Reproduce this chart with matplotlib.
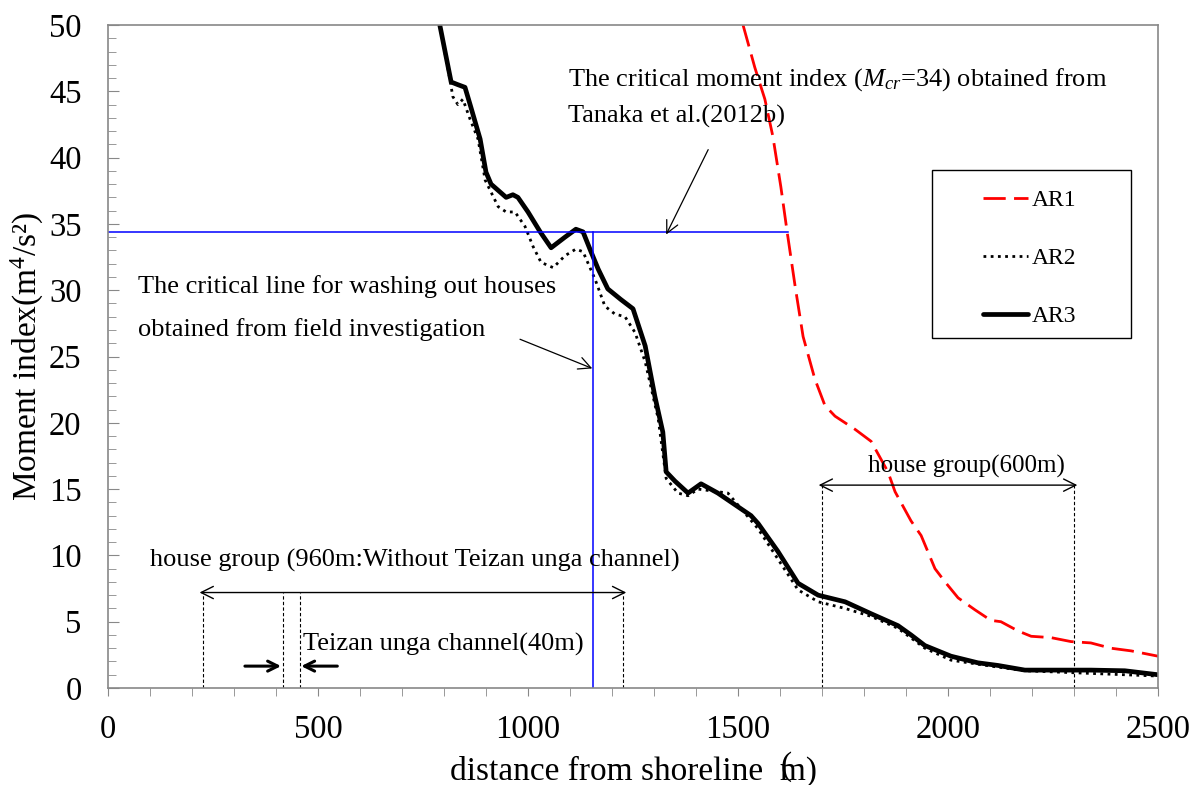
import numpy as np
import matplotlib
matplotlib.use("Agg")
import matplotlib.pyplot as plt
from matplotlib.ticker import MultipleLocator
from matplotlib.patches import Rectangle

# 字体：Times 风格
plt.rcParams["font.family"] = ["Liberation Serif", "DejaVu Serif"]
plt.rcParams["mathtext.fontset"] = "custom"
plt.rcParams["mathtext.rm"] = "Liberation Serif"
plt.rcParams["mathtext.it"] = "Liberation Serif:italic"

# 数据
ar1_x = [1512, 1540, 1564, 1583, 1602, 1617, 1636, 1655, 1683, 1707, 1731, 1779,
         1817, 1857, 1874, 1912, 1936, 1969, 1993, 2024, 2064, 2102, 2126, 2167,
         2198, 2245, 2293, 2340, 2388, 2436, 2500]
ar1_y = [50, 46.8, 44.4, 41.6, 37.8, 34.4, 30.3, 26.5, 23.3, 21.3, 20.5, 19.5,
         18.6, 16.3, 14.8, 12.6, 11.5, 9.0, 8.0, 6.8, 5.9, 5.1, 5.0, 4.3,
         3.9, 3.8, 3.5, 3.4, 3.0, 2.8, 2.4]

ar2_x = [790, 814, 821, 833, 845, 862, 881, 898, 929, 948, 969, 993, 1012, 1031,
         1060, 1088, 1114, 1131, 1160, 1183, 1207, 1231, 1255, 1279, 1310, 1329,
         1357, 1381, 1405, 1476, 1548, 1643, 1691, 1755, 1817, 1881, 1945, 2007,
         2102, 2183, 2340, 2500]
ar2_y = [50, 45.9, 44.6, 44.0, 44.4, 42.9, 41.4, 38.3, 36.3, 35.9, 35.9, 34.8, 33.3,
         32.1, 31.7, 32.6, 33.1, 32.9, 30.8, 28.8, 28.2, 28.0, 26.8, 24.6, 20.3,
         15.8, 14.7, 14.5, 15.0, 14.7, 12.0, 7.4, 6.5, 6.0, 5.4, 4.5, 3.0, 2.1,
         1.65, 1.3, 1.1, 0.9]

ar3_x = [790, 817, 833, 850, 864, 886, 900, 912, 948, 964, 976, 1000, 1029, 1055,
         1088, 1114, 1131, 1150, 1167, 1190, 1221, 1250, 1279, 1302, 1321, 1329,
         1350, 1381, 1412, 1452, 1531, 1548, 1595, 1643, 1691, 1755, 1817, 1881,
         1912, 1945, 2007, 2071, 2119, 2183, 2262, 2340, 2421, 2500]
ar3_y = [50, 45.7, 45.5, 45.3, 43.8, 41.4, 38.9, 38.0, 37.0, 37.2, 37.0, 35.9, 34.4,
         33.2, 34.0, 34.6, 34.4, 32.9, 31.6, 30.1, 29.3, 28.6, 25.8, 22.0, 19.3,
         16.3, 15.6, 14.7, 15.4, 14.7, 13.0, 12.4, 10.3, 7.9, 7.0, 6.5, 5.6, 4.7,
         4.0, 3.2, 2.4, 1.9, 1.7, 1.35, 1.35, 1.35, 1.3, 1.0]

m_cr = 34.4          # 临界弯矩指数线
x_crit = 1155        # 现场调查得到的冲毁临界线
x_house1 = [226, 1226]
x_channel = [416, 456]
x_house2 = [1700, 2300]

fig = plt.figure(figsize=(11.98, 7.85), dpi=100)
ax = fig.add_axes([108 / 1198, 97 / 785, 1050 / 1198, 663 / 785])

ax.plot(ar1_x, ar1_y, color="red", lw=2, dashes=(8, 3), label="AR1",
        dash_joinstyle="round")
ax.plot(ar2_x, ar2_y, color="black", lw=2, linestyle=(0, (1, 1.6)), label="AR2")
ax.plot(ar3_x, ar3_y, color="black", lw=3.4, label="AR3",
        solid_joinstyle="round", solid_capstyle="round")

# 蓝色临界线
ax.plot([0, 1619], [m_cr, m_cr], color="blue", lw=1.1)
ax.plot([x_crit, x_crit], [0, m_cr], color="blue", lw=1.1)

# 房屋群范围
y1 = 7.2
for xv in x_house1 + x_channel:
    ax.plot([xv, xv], [0, y1], color="black", lw=0.8, ls=(0, (3, 2)))
ax.annotate("", xy=(x_house1[0] - 8, y1), xytext=(x_house1[1] + 8, y1),
            arrowprops=dict(arrowstyle="<->", color="black", lw=1.0,
                            mutation_scale=22, shrinkA=0, shrinkB=0))
y2 = 15.3
for xv in x_house2:
    ax.plot([xv, xv], [0, y2], color="black", lw=0.8, ls=(0, (3, 2)))
ax.annotate("", xy=(x_house2[0] - 8, y2), xytext=(x_house2[1] + 8, y2),
            arrowprops=dict(arrowstyle="<->", color="black", lw=1.0,
                            mutation_scale=22, shrinkA=0, shrinkB=0))

# Teizan 运河箭头
ax.annotate("", xy=(x_channel[0] - 4, 1.65), xytext=(x_channel[0] - 90, 1.65),
            arrowprops=dict(arrowstyle="->", color="black", lw=2.2,
                            mutation_scale=18, shrinkA=0, shrinkB=0))
ax.annotate("", xy=(x_channel[1] + 4, 1.65), xytext=(x_channel[1] + 90, 1.65),
            arrowprops=dict(arrowstyle="->", color="black", lw=2.2,
                            mutation_scale=18, shrinkA=0, shrinkB=0))

# 说明箭头
ax.annotate("", xy=(1329, 34.2), xytext=(1429, 40.6),
            arrowprops=dict(arrowstyle="->", color="black", lw=0.9,
                            mutation_scale=22, shrinkA=0, shrinkB=0))
ax.annotate("", xy=(1153, 24.1), xytext=(981, 26.3),
            arrowprops=dict(arrowstyle="->", color="black", lw=0.9,
                            mutation_scale=22, shrinkA=0, shrinkB=0))

fs = 19
ax.text(1095, 45.9, "The critical moment index ($M_{cr}$=34) obtained from",
        fontsize=fs, va="center", ha="left")
ax.text(1095, 43.1, "Tanaka et al.(2012b)", fontsize=fs, va="center", ha="left")
ax.text(71, 30.3, "The critical line for washing out houses", fontsize=fs,
        va="center", ha="left")
ax.text(71, 27.0, "obtained from field investigation", fontsize=fs,
        va="center", ha="left")
ax.text(100, 9.6, "house group (960m:Without Teizan unga channel)", fontsize=fs,
        va="center", ha="left")
ax.text(464, 3.3, "Teizan unga channel(40m)", fontsize=fs, va="center", ha="left")
ax.text(1810, 16.7, "house group(600m)", fontsize=18, va="center", ha="left")

# 图例
ax.add_patch(Rectangle((0.785, 0.528), 0.189, 0.253, transform=ax.transAxes,
                       fill=False, edgecolor="black", lw=1.0, zorder=5))
ax.legend(loc="upper left", bbox_to_anchor=(0.833, 0.752), frameon=False,
          fontsize=17, borderpad=0, borderaxespad=0, handlelength=1.9,
          handletextpad=0.2, labelspacing=1.55)

ax.set_xlim(0, 2500)
ax.set_ylim(0, 50)
ax.xaxis.set_major_locator(MultipleLocator(500))
ax.xaxis.set_minor_locator(MultipleLocator(100))
ax.yaxis.set_major_locator(MultipleLocator(5))
ax.yaxis.set_minor_locator(MultipleLocator(1))
ax.tick_params(axis="x", which="both", direction="out", length=6, color="#888888",
               labelsize=23.5, pad=13)
ax.tick_params(axis="y", which="major", direction="in", length=8, color="#888888",
               labelsize=23.5, pad=19)
ax.tick_params(axis="y", which="minor", direction="in", length=6, color="#888888")
for s in ax.spines.values():
    s.set_color("#888888")
    s.set_linewidth(1.2)

ax.set_ylabel("Moment index(m$^{4}$/s²)", fontsize=24, labelpad=2)
ax.set_xlabel("distance from shoreline  m)", fontsize=24, labelpad=8)
fig.text(786 / 1198, 1 - 767 / 785, "(", fontsize=24, ha="center", va="center")

fig.savefig("out.png", dpi=100)
